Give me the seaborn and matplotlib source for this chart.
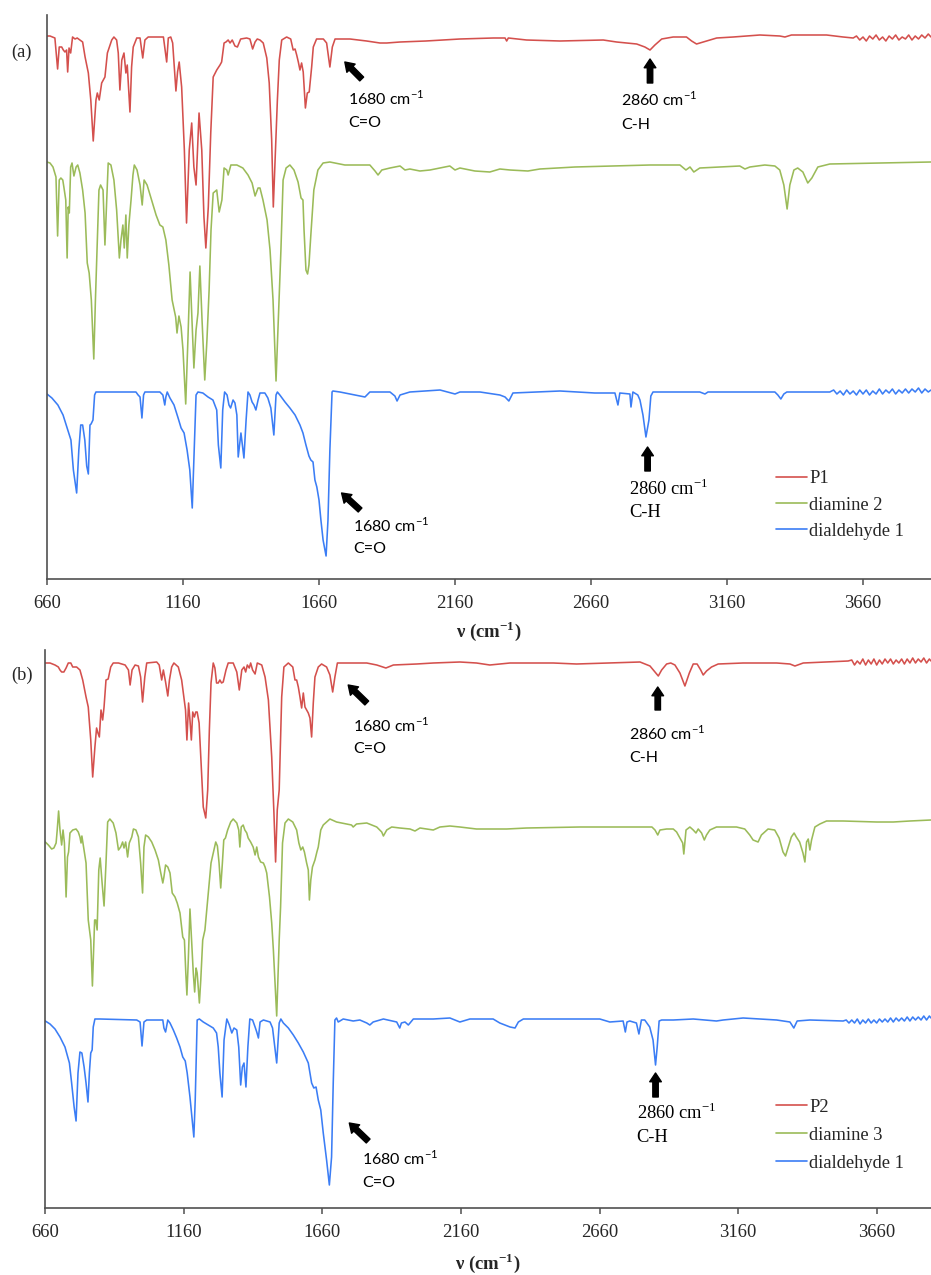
import matplotlib
matplotlib.use('Agg')
import matplotlib.pyplot as plt
import seaborn as sns
import pandas as pd

sns.set_style('white')
plt.rcParams['font.family'] = ['Liberation Serif', 'DejaVu Serif']

RED = '#D4504D'
GREEN = '#9BBB59'
BLUE = '#3B7DF5'

TICKS = [660, 1160, 1660, 2160, 2660, 3160, 3660]
XLIM_A = (660, 3910)
YLIM_A = (0, 564)
XLIM_B = (660, 3856)
YLIM_B = (0, 558)

# ---------------- panel (a) spectra: (wavenumber, stacked transmittance a.u.)
P1_A = [(660,543),(671,543),(689,541),(699,510),(705,532),(714,532),(720,529),(726,527),(732,529),(736,507),
        (741,531),(747,526),(754,542),(763,540),(771,541),(781,539),(791,537),(800,522),(812,506),(821,479),
        (830,438),(840,479),(845,486),(852,479),(861,496),(873,502),(882,526),(898,539),(906,542),(916,539),
        (922,526),(928,489),(935,519),(943,526),(950,506),(955,514),(965,467),(971,512),(977,532),(990,541),
        (1002,541),(1012,521),(1020,539),(1032,542),(1088,542),(1100,517),(1106,541),(1115,542),(1122,536),
        (1134,488),(1140,507),(1146,517),(1155,492),(1165,429),(1173,356),(1183,429),(1192,456),(1200,412),
        (1208,394),(1219,466),(1229,429),(1237,362),(1244,331),(1253,372),(1262,446),(1271,502),(1284,509),
        (1296,514),(1302,517),(1311,536),(1318,537),(1326,539),(1333,536),(1341,539),(1351,533),(1360,532),
        (1372,540),(1394,541),(1406,540),(1416,530),(1425,537),(1433,540),(1443,539),(1455,536),(1468,521),
        (1477,496),(1486,439),(1492,372),(1499,422),(1507,479),(1514,519),(1523,539),(1541,542),(1556,540),
        (1565,529),(1572,530),(1578,524),(1584,517),(1590,509),(1596,516),(1602,507),(1610,471),(1617,486),
        (1624,487),(1633,512),(1639,532),(1651,540),(1676,540),(1688,536),(1700,512),(1709,532),(1719,540),
        (1774,540),(1835,538),(1884,536),(1909,536),(1958,537),(2053,538),(2178,540),(2301,541),(2344,541),
        (2350,538),(2356,541),(2423,539),(2546,538),(2705,539),(2754,537),(2828,535),(2858,532),(2877,529),
        (2895,534),(2920,540),(2962,542),(3011,542),(3030,538),(3048,535),(3073,537),(3122,541),(3183,542),
        (3281,544),(3354,543),(3373,542),(3397,544),(3526,544),(3587,542),(3624,541),(3636,543),(3648,539),
        (3660,542),(3672,538),(3684,543),(3696,540),(3708,544),(3720,539),(3732,542),(3744,538),(3756,543),
        (3768,540),(3780,544),(3792,539),(3804,542),(3816,540),(3828,544),(3840,539),(3852,543),(3864,540),
        (3876,544),(3888,541),(3900,545),(3910,542)]

DIAMINE2_A = [(660,417),(671,416),(682,412),(693,402),(699,343),(705,399),(711,401),(718,399),(722,392),
              (729,379),(734,321),(738,372),(742,366),(747,412),(752,416),(759,403),(767,412),(773,414),
              (781,406),(791,389),(800,366),(808,316),(815,306),(823,279),(832,220),(838,279),(844,329),
              (851,389),(857,394),(866,389),(873,334),(881,389),(885,416),(895,414),(906,399),(916,369),
              (926,321),(932,339),(939,354),(944,331),(950,364),(955,321),(961,354),(969,379),(976,404),
              (981,414),(991,409),(1002,394),(1010,374),(1017,399),(1028,394),(1039,384),(1050,374),
              (1061,364),(1075,354),(1086,352),(1097,339),(1108,314),(1120,279),(1133,262),(1138,246),
              (1145,263),(1153,252),(1160,229),(1170,175),(1178,239),(1186,307),(1196,239),(1200,211),
              (1208,249),(1215,266),(1222,313),(1230,259),(1240,199),(1248,239),(1256,289),(1263,349),
              (1271,386),(1284,389),(1293,367),(1303,379),(1311,411),(1321,409),(1326,404),(1336,414),
              (1358,414),(1380,411),(1399,404),(1414,396),(1425,383),(1436,391),(1443,391),(1454,379),
              (1469,359),(1480,329),(1491,279),(1502,198),(1513,279),(1520,329),(1528,399),(1539,411),
              (1553,414),(1568,409),(1583,397),(1594,381),(1601,379),(1605,349),(1612,309),(1618,305),
              (1623,314),(1630,344),(1641,389),(1656,409),(1675,416),(1700,417),(1755,414),(1811,414),
              (1847,414),(1866,408),(1877,404),(1891,409),(1921,411),(1958,413),(1976,409),(1994,410),
              (2031,408),(2068,409),(2105,411),(2141,413),(2160,409),(2178,411),(2233,408),(2288,407),
              (2325,410),(2362,409),(2428,408),(2472,410),(2601,412),(2877,414),(2987,414),(3009,409),
              (3024,412),(3038,407),(3060,411),(3207,413),(3226,410),(3244,412),(3299,414),(3336,413),
              (3354,409),(3369,394),(3381,370),(3391,394),(3406,409),(3420,411),(3439,407),(3457,396),
              (3472,401),(3494,412),(3538,415),(3722,416),(3910,417)]

DIALDEHYDE1_A = [(660,185),(678,181),(700,174),(719,164),(734,151),(748,139),(757,109),(769,86),(777,129),
                 (784,154),(791,154),(799,139),(806,113),(812,105),(818,154),(822,155),(829,159),(835,184),
                 (840,187),(855,187),(987,187),(995,184),(1002,182),(1009,161),(1015,184),(1020,187),
                 (1075,187),(1086,184),(1093,174),(1097,182),(1102,187),(1112,181),(1127,174),(1142,161),
                 (1153,151),(1164,146),(1175,129),(1185,109),(1194,71),(1200,119),(1208,184),(1215,187),
                 (1233,186),(1252,182),(1270,179),(1284,169),(1290,134),(1299,111),(1306,169),(1313,187),
                 (1322,184),(1329,174),(1335,171),(1344,179),(1351,176),(1358,164),(1363,122),(1373,146),
                 (1384,121),(1392,159),(1399,187),(1406,184),(1414,177),(1421,174),(1428,169),(1436,179),
                 (1443,186),(1461,186),(1472,181),(1483,171),(1494,144),(1502,184),(1507,187),(1516,184),
                 (1535,177),(1553,171),(1572,164),(1590,154),(1601,146),(1612,134),(1623,123),(1630,119),
                 (1638,117),(1645,99),(1652,92),(1660,79),(1667,59),(1675,39),(1686,23),(1693,59),(1700,129),
                 (1708,187),(1711,188),(1737,187),(1774,185),(1829,182),(1847,187),(1921,187),(1939,183),
                 (1947,178),(1958,184),(1994,187),(2105,189),(2160,185),(2178,187),(2252,187),(2325,184),
                 (2344,182),(2358,178),(2373,186),(2546,188),(2674,186),(2748,186),(2759,174),(2766,186),
                 (2803,185),(2807,172),(2814,187),(2832,184),(2840,179),(2851,164),(2862,142),(2873,159),
                 (2880,183),(2888,187),(3060,187),(3079,185),(3090,187),(3336,187),(3347,184),(3358,180),
                 (3369,185),(3380,187),(3538,187),(3552,189),(3564,185),(3576,188),(3588,184),(3600,189),
                 (3612,185),(3624,188),(3636,184),(3648,189),(3660,185),(3672,189),(3684,184),(3696,188),
                 (3708,185),(3720,190),(3732,185),(3744,189),(3756,186),(3768,190),(3780,185),(3792,189),
                 (3804,186),(3816,190),(3828,186),(3840,190),(3852,187),(3864,191),(3876,186),(3888,190),
                 (3900,187),(3910,189)]

# ---------------- panel (b) spectra
P2_B = [(660,545),(677,545),(695,543),(707,541),(713,538),(719,536),(727,536),(735,540),(743,545),(752,545),
        (759,541),(773,541),(785,538),(795,528),(807,511),(815,501),(824,468),(831,431),(839,461),(845,480),
        (850,475),(855,471),(861,498),(867,488),(872,501),(879,528),(887,529),(896,541),(905,545),(924,545),
        (948,543),(960,538),(966,523),(973,538),(984,543),(996,542),(1004,531),(1011,506),(1019,531),
        (1026,545),(1062,546),(1071,543),(1080,528),(1086,538),(1094,526),(1102,512),(1108,528),(1116,541),
        (1124,545),(1140,541),(1152,528),(1160,511),(1166,498),(1171,468),(1177,505),(1182,488),(1187,468),
        (1192,496),(1198,491),(1203,496),(1208,496),(1215,485),(1222,445),(1230,401),(1239,390),(1246,418),
        (1252,478),(1258,525),(1266,545),(1272,540),(1278,525),(1284,525),(1290,528),(1296,525),(1302,526),
        (1312,538),(1320,545),(1338,545),(1351,536),(1360,518),(1369,538),(1377,541),(1383,536),(1389,543),
        (1396,540),(1401,545),(1408,538),(1417,534),(1425,545),(1441,543),(1453,531),(1465,508),(1477,451),
        (1485,395),(1491,346),(1497,398),(1504,418),(1513,511),(1521,541),(1537,545),(1553,541),(1561,528),
        (1567,528),(1573,521),(1579,511),(1585,500),(1591,515),(1597,501),(1603,498),(1609,495),(1615,490),
        (1621,471),(1627,505),(1633,531),(1645,541),(1657,544),(1675,541),(1687,533),(1697,516),(1705,531),
        (1714,545),(1735,545),(1820,545),(1856,543),(1889,540),(1916,543),(2000,544),(2060,545),(2156,546),
        (2216,545),(2264,543),(2337,545),(2397,545),(2493,545),(2577,544),(2697,545),(2806,546),(2842,542),
        (2860,536),(2872,532),(2884,538),(2902,544),(2917,545),(2932,543),(2950,535),(2968,522),(2984,535),
        (2998,544),(3012,544),(3025,538),(3034,533),(3046,537),(3064,541),(3088,544),(3178,545),(3299,545),
        (3347,544),(3365,542),(3395,545),(3479,546),(3557,547),(3570,548),(3580,543),(3590,547),(3600,544),
        (3610,549),(3620,543),(3630,548),(3640,544),(3650,549),(3660,543),(3670,548),(3680,544),(3690,549),
        (3700,545),(3710,549),(3720,544),(3730,548),(3740,545),(3750,549),(3760,544),(3770,549),(3780,545),
        (3790,550),(3800,545),(3810,549),(3820,546),(3830,550),(3840,545),(3850,549),(3856,547)]

DIAMINE3_B = [(660,366),(671,363),(683,359),(691,360),(699,365),(703,378),(708,397),(713,378),(719,363),
              (724,378),(729,365),(735,311),(740,351),(744,356),(749,375),(759,378),(771,379),(779,376),
              (785,371),(789,365),(792,372),(797,363),(807,345),(815,288),(824,268),(830,222),(838,288),
              (842,288),(847,278),(853,338),(858,350),(865,325),(872,302),(879,345),(885,386),(893,389),
              (905,385),(915,375),(924,358),(932,361),(939,366),(944,360),(950,366),(957,351),(963,365),
              (972,371),(978,379),(987,378),(996,371),(1004,345),(1011,315),(1016,361),(1022,373),(1032,371),
              (1044,366),(1056,358),(1068,348),(1076,336),(1084,325),(1088,331),(1094,343),(1102,341),
              (1110,335),(1118,315),(1128,311),(1136,305),(1146,295),(1156,271),(1162,268),(1167,235),
              (1171,213),(1176,248),(1182,299),(1188,268),(1194,235),(1199,216),(1204,240),(1208,235),
              (1216,205),(1221,228),(1228,268),(1236,278),(1248,315),(1258,345),(1266,355),(1275,366),
              (1281,362),(1287,345),(1293,320),(1299,345),(1304,368),(1310,370),(1318,378),(1329,386),
              (1338,389),(1351,385),(1358,378),(1362,361),(1367,381),(1374,383),(1380,378),(1387,375),
              (1392,370),(1401,366),(1410,361),(1417,353),(1423,361),(1429,351),(1437,346),(1447,345),
              (1453,341),(1459,335),(1469,311),(1477,285),(1483,258),(1495,192),(1504,268),(1509,301),
              (1516,365),(1525,385),(1537,389),(1553,386),(1567,378),(1575,365),(1582,358),(1589,361),
              (1595,356),(1603,345),(1609,338),(1613,308),(1618,328),(1624,341),(1633,348),(1640,356),
              (1645,361),(1654,378),(1663,383),(1675,386),(1687,389),(1711,386),(1747,384),(1765,383),
              (1771,381),(1783,384),(1820,385),(1856,381),(1874,376),(1880,372),(1892,378),(1910,381),
              (1939,380),(1976,379),(1994,377),(2012,380),(2060,378),(2084,381),(2120,382),(2156,381),
              (2216,379),(2276,379),(2325,379),(2397,380),(2589,381),(2733,381),(2849,381),(2860,378),
              (2870,373),(2878,378),(2902,379),(2926,379),(2938,376),(2950,370),(2960,365),(2964,354),
              (2972,378),(2986,381),(2998,378),(3008,375),(3016,379),(3028,375),(3038,368),(3046,373),
              (3058,378),(3082,381),(3154,381),(3184,379),(3202,373),(3214,368),(3232,366),(3244,373),
              (3268,379),(3292,378),(3308,370),(3322,356),(3331,352),(3340,360),(3352,371),(3362,375),
              (3370,371),(3382,366),(3394,355),(3401,346),(3407,366),(3413,369),(3419,358),(3425,368),
              (3437,381),(3455,384),(3479,387),(3539,387),(3660,386),(3720,386),(3780,387),(3856,388)]

DIALDEHYDE1_B = [(660,187),(677,184),(695,179),(713,171),(731,161),(747,145),(755,125),(764,101),(771,87),
                 (778,135),(785,156),(792,155),(800,141),(807,125),(814,106),(819,135),(824,155),(829,158),
                 (833,181),(839,189),(857,189),(990,188),(1002,186),(1009,162),(1016,186),(1026,188),
                 (1084,188),(1088,180),(1094,176),(1102,188),(1110,185),(1122,178),(1134,170),(1146,161),
                 (1156,151),(1165,147),(1172,135),(1182,111),(1190,88),(1196,71),(1201,108),(1208,188),
                 (1216,189),(1230,186),(1248,183),(1266,180),(1278,175),(1284,161),(1290,135),(1298,111),
                 (1305,168),(1315,189),(1324,183),(1333,175),(1341,180),(1351,178),(1358,161),(1365,123),
                 (1371,141),(1377,145),(1384,121),(1391,161),(1398,189),(1408,188),(1417,181),(1423,176),
                 (1429,170),(1435,186),(1447,188),(1471,186),(1480,180),(1488,161),(1495,145),(1504,185),
                 (1510,189),(1519,185),(1537,180),(1555,173),(1573,165),(1591,156),(1609,145),(1621,125),
                 (1629,120),(1637,121),(1645,108),(1654,98),(1663,75),(1675,48),(1685,23),(1693,51),
                 (1699,125),(1705,188),(1711,190),(1717,186),(1735,189),(1771,187),(1795,188),(1820,185),
                 (1831,183),(1843,186),(1880,189),(1928,186),(1939,180),(1945,185),(1958,186),(1970,183),
                 (1988,189),(2060,189),(2120,190),(2156,186),(2192,189),(2276,189),(2300,185),(2337,181),
                 (2355,180),(2367,186),(2385,189),(2517,189),(2661,189),(2697,186),(2745,187),(2753,176),
                 (2759,186),(2769,187),(2793,185),(2802,174),(2811,188),(2823,188),(2841,181),(2853,168),
                 (2862,143),(2868,161),(2875,187),(2884,188),(2926,188),(2998,189),(3082,187),(3106,188),
                 (3178,190),(3299,188),(3347,186),(3361,180),(3373,187),(3419,188),(3539,187),(3550,188),
                 (3560,185),(3570,188),(3580,185),(3590,189),(3600,184),(3610,188),(3620,185),(3630,189),
                 (3640,185),(3650,188),(3660,185),(3670,189),(3680,186),(3690,189),(3700,186),(3710,190),
                 (3720,186),(3730,190),(3740,187),(3750,190),(3760,187),(3770,191),(3780,187),(3790,191),
                 (3800,188),(3810,191),(3820,188),(3830,192),(3840,188),(3850,192),(3856,190)]

LABELS_A = ['P1', 'diamine 2', 'dialdehyde 1']
LABELS_B = ['P2', 'diamine 3', 'dialdehyde 1']
COLORS = [RED, GREEN, BLUE]

# annotations: (head, tail, text-x, line1-baseline, line2-baseline, label1, label2, font)
ANN_A = [((1755, 517), (1817, 500), 1766, 474, 452, '1680 cm', 'C=O', 'sans'),
         ((2877, 520), (2877, 496), 2770, 473, 450, '2860 cm', 'C-H', 'sans'),
         ((1743, 86), (1811, 69), 1786, 47, 26, '1680 cm', 'C=O', 'sans'),
         ((2868, 132), (2868, 108), 2800, 84, 62, '2860 cm', 'C-H', 'serif')]
ANN_B = [((1753, 523), (1820, 505), 1771, 476, 455, '1680 cm', 'C=O', 'sans'),
         ((2870, 521), (2870, 498), 2767, 468, 446, '2860 cm', 'C-H', 'sans'),
         ((1757, 85), (1825, 67), 1802, 43, 21, '1680 cm', 'C=O', 'sans'),
         ((2862, 135), (2862, 111), 2794, 89, 66, '2860 cm', 'C-H', 'serif')]

W, H = 931, 1275
fig = plt.figure(figsize=(W / 100, H / 100), dpi=100)
ax_a = fig.add_axes([47 / W, 1 - 579 / H, (W - 47) / W, (579 - 15) / H])
ax_b = fig.add_axes([45.3 / W, 1 - 1208 / H, (W - 45.3) / W, (1208 - 650) / H])

SANS = ['Lato', 'DejaVu Sans']
SERIF = ['Liberation Serif', 'DejaVu Serif']


def draw(ax, traces, labels, xlim, ylim, ann, leg_anchor, leg_spacing, xlabelpad):
    for data, lab, col in zip(traces, labels, COLORS):
        df = pd.DataFrame(data, columns=['wn', 'T'])
        sns.lineplot(data=df, x='wn', y='T', ax=ax, color=col, linewidth=1.15,
                     estimator=None, sort=False, label=lab)
    ax.set_xlim(*xlim)
    ax.set_ylim(*ylim)
    ax.set_xticks(TICKS)
    ax.set_xticklabels([str(t) for t in TICKS], fontsize=13.4, family=SERIF)
    ax.set_yticks([])
    ax.set_ylabel('')
    ax.set_xlabel(r'ν (cm$^{\mathregular{-1}}$)', fontsize=13.5, fontweight='bold',
                  family=SERIF, labelpad=xlabelpad)
    for s in ['top', 'right']:
        ax.spines[s].set_visible(False)
    for s in ['left', 'bottom']:
        ax.spines[s].set_color('#505050')
        ax.spines[s].set_linewidth(1.2)
    ax.tick_params(axis='x', direction='out', length=4, width=1.1, color='#505050',
                   pad=7.5, bottom=True)
    for head, tail, tx, b1, b2, l1, l2, f in ann:
        ax.annotate('', xy=head, xytext=tail,
                    arrowprops=dict(arrowstyle='simple,head_length=0.45,head_width=0.6,tail_width=0.28',
                                    color='black', shrinkA=0, shrinkB=0, mutation_scale=14))
        fam = SANS if f == 'sans' else SERIF
        fs = 11.5 if f == 'sans' else 13.3
        ax.text(tx, b1, l1 + r'$^{\mathregular{-1}}$', family=fam, fontsize=fs,
                ha='left', va='baseline', color='black')
        ax.text(tx, b2, l2, family=fam, fontsize=fs, ha='left', va='baseline', color='black')
    leg = ax.legend(loc='upper left', bbox_to_anchor=leg_anchor, frameon=False,
                    borderpad=0, borderaxespad=0, handlelength=1.68, handletextpad=0.12,
                    labelspacing=leg_spacing, prop={'family': SERIF, 'size': 13.3})
    for line in leg.get_lines():
        line.set_linewidth(1.2)


draw(ax_a, [P1_A, DIAMINE2_A, DIALDEHYDE1_A], LABELS_A, XLIM_A, YLIM_A, ANN_A,
     (0.8247, 0.1924), 0.5, 5)
draw(ax_b, [P2_B, DIAMINE3_B, DIALDEHYDE1_B], LABELS_B, XLIM_B, YLIM_B, ANN_B,
     (0.825, 0.196), 0.6, 7)

fig.text(21 / W, 1 - 52 / H, '(a)', family=SERIF, fontsize=13.3, ha='center', va='center')
fig.text(22 / W, 1 - 675 / H, '(b)', family=SERIF, fontsize=13.3, ha='center', va='center')

fig.savefig('out.png', dpi=100, facecolor='white')
